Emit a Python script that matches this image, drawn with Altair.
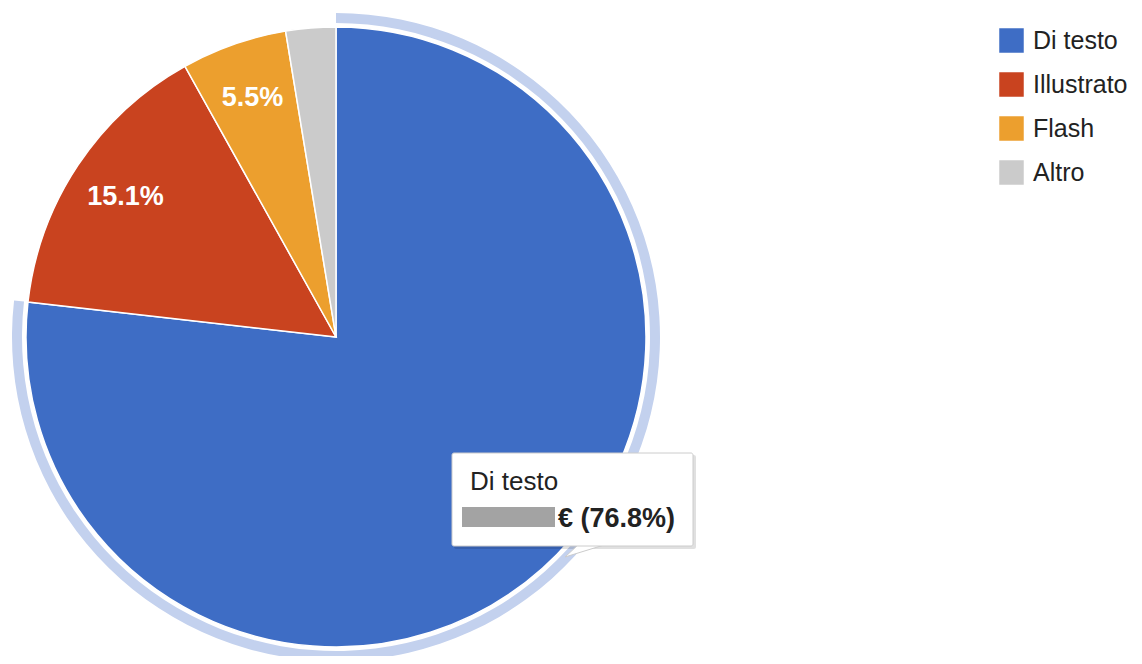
import altair as alt
import pandas as pd

categories = ["Di testo", "Illustrato", "Flash", "Altro"]
shares = [76.8, 15.1, 5.5, 2.6]
colors = ["#3e6dc5", "#c9431f", "#ec9f2e", "#cbcbcb"]
order_idx = [0, 1, 2, 3]

tooltip_title = "Di testo"
tooltip_value = "€ (76.8%)"

df = pd.DataFrame({"category": categories, "share": shares, "idx": order_idx})

FONT = "Liberation Sans"
CX, CY = 328, 329

base = alt.Chart(df)

theta = alt.Theta("share:Q", stack=True, scale=alt.Scale(domain=[0, 100]))
order = alt.Order("idx:Q", sort="ascending")

pie = base.mark_arc(
    outerRadius=310, stroke="white", strokeWidth=1.5
).encode(
    x=alt.value(CX),
    y=alt.value(CY),
    theta=theta,
    order=order,
    color=alt.Color(
        "category:N",
        scale=alt.Scale(domain=categories, range=colors),
        sort=categories,
        legend=alt.Legend(
            title=None,
            orient="none",
            legendX=991,
            legendY=20,
            symbolType="square",
            symbolSize=600,
            symbolStrokeWidth=0,
            labelFont=FONT,
            labelFontSize=25,
            labelColor="#222222",
            labelOffset=9,
            rowPadding=18,
            padding=0,
        ),
    ),
)

ring = base.transform_filter(
    alt.datum.category == "Di testo"
).mark_arc(
    radius=324, radius2=314, color="#c3d1ee"
).encode(
    x=alt.value(CX),
    y=alt.value(CY),
    theta=theta,
    order=order,
)

labels = base.transform_calculate(
    label="datum.category == 'Altro' ? '' : format(datum.share, '.1f') + '%'"
).mark_text(
    radius=253, font=FONT, fontSize=27, fontWeight="bold", color="white",
    align="center", baseline="middle"
).encode(
    x=alt.value(CX),
    y=alt.value(CY),
    theta=theta,
    order=order,
    text="label:N",
)

tip = alt.Chart(alt.Data(values=[{"title": tooltip_title, "value": tooltip_value}]))

tip_shadow = tip.mark_rect(color="#000000", opacity=0.12, cornerRadius=2).encode(
    x=alt.value(446), x2=alt.value(688), y=alt.value(447), y2=alt.value(541)
)
pointer = tip.mark_point(
    shape="M -0.3 -0.3 L 1 -0.3 L -0.95 0.3 Z",
    size=1600, filled=True, fill="white", stroke="#cccccc", strokeWidth=1, opacity=1
).encode(x=alt.value(576), y=alt.value(543))
tip_box = tip.mark_rect(
    fill="white", stroke="#cccccc", strokeWidth=1, cornerRadius=2
).encode(
    x=alt.value(444), x2=alt.value(685), y=alt.value(445), y2=alt.value(538)
)
tip_title = tip.mark_text(
    font=FONT, fontSize=26, color="#222222", align="left", baseline="alphabetic"
).encode(x=alt.value(462), y=alt.value(482), text="title:N")
tip_redact = tip.mark_rect(color="#a3a3a3").encode(
    x=alt.value(454), x2=alt.value(547), y=alt.value(499), y2=alt.value(519)
)
tip_value = tip.mark_text(
    font=FONT, fontSize=27, fontWeight="bold", color="#222222", align="left",
    baseline="alphabetic"
).encode(x=alt.value(550), y=alt.value(519), text="value:N")

chart = alt.layer(
    ring, pie, labels, tip_shadow, pointer, tip_box, tip_title, tip_redact, tip_value
).properties(
    width=1126, height=648, padding=0, autosize=alt.AutoSizeParams(type="none"),
    background="white",
).configure_view(stroke=None)

chart.save("out.html", embed_options={"renderer": "svg", "actions": False})
